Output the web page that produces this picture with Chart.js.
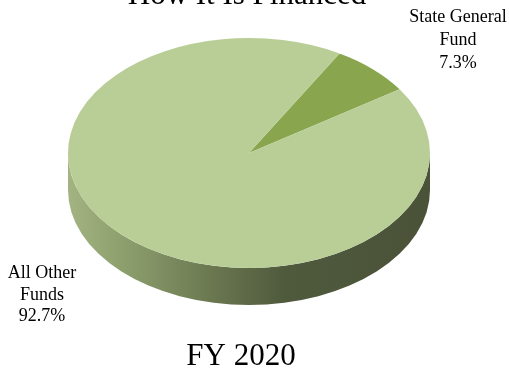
<!DOCTYPE html>
<html>
<head>
<meta charset="utf-8">
<title>How It Is Financed</title>
<script src="https://cdn.jsdelivr.net/npm/chart.js@4.4.1/dist/chart.umd.min.js"></script>
<style>
  html, body { margin: 0; padding: 0; background: #fff; overflow: hidden; }
  #wrap { position: relative; width: 509px; height: 370px; }
</style>
</head>
<body>
<div id="wrap"><canvas id="graficoFinanciamento" width="509" height="370"></canvas></div>
<script>
// --- How It Is Financed, FY 2020 ---
const titulo = 'How It Is Financed';
const anoFiscal = 'FY 2020';
const categorias = ['State General Fund', 'All Other Funds'];
const percentuais = [7.3, 92.7];
const cores = ['#89a64f', '#b9ce97'];

// quebra o nome antes da última palavra e coloca o percentual embaixo
function linhasRotulo(i) {
    const nome = categorias[i];
    const k = nome.lastIndexOf(' ');
    return [nome.slice(0, k), nome.slice(k + 1), percentuais[i].toFixed(1) + '%'];
}

// pizza "3D": achata o desenho do Chart.js e pinta a lateral por baixo
const pizza3d = {
    id: 'pizza3d',
    beforeDatasetsDraw(chart, args, opts) {
        const ctx = chart.ctx;
        const arcs = chart.getDatasetMeta(0).data;
        const cx = arcs[0].x, cy = arcs[0].y, r = arcs[0].outerRadius;
        const ry = r * opts.achatamento;
        const yc = opts.centroY;

        const grad = ctx.createLinearGradient(cx - r, 0, cx + r, 0);
        grad.addColorStop(0, '#a3b482');
        grad.addColorStop(0.2, '#879868');
        grad.addColorStop(0.42, '#67744d');
        grad.addColorStop(0.6, '#4f5a3d');
        grad.addColorStop(1, '#4a5238');

        ctx.save();
        arcs.forEach(function(arc) {
            // só a parte da frente (0..PI) aparece
            let a0 = arc.startAngle, a1 = arc.endAngle;
            for (let k = -1; k <= 1; k++) {
                const s = Math.max(a0 + k * 2 * Math.PI, 0);
                const e = Math.min(a1 + k * 2 * Math.PI, Math.PI);
                if (e <= s) continue;
                ctx.beginPath();
                ctx.ellipse(cx, yc, r, ry, 0, s, e);
                ctx.ellipse(cx, yc + opts.espessura, r, ry, 0, e, s, true);
                ctx.closePath();
                ctx.fillStyle = grad;
                ctx.fill();
            }
        });
        ctx.restore();

        ctx.save();
        ctx.translate(cx, yc);
        ctx.scale(1, opts.achatamento);
        ctx.translate(-cx, -cy);
    },
    afterDatasetsDraw(chart) {
        chart.ctx.restore();
    }
};

// textos: título, rótulos das fatias e ano
const textos = {
    id: 'textos',
    afterDraw(chart, args, opts) {
        const ctx = chart.ctx;
        ctx.save();
        ctx.fillStyle = '#000';
        ctx.textAlign = 'center';
        ctx.textBaseline = 'alphabetic';

        ctx.font = '31px "Liberation Serif", "Times New Roman", serif';
        ctx.fillText(titulo, opts.titulo.x, opts.titulo.y);
        ctx.fillText(anoFiscal, opts.ano.x, opts.ano.y);

        ctx.font = '18px "Liberation Serif", "Times New Roman", serif';
        opts.rotulos.forEach(function(p, i) {
            linhasRotulo(i).forEach(function(txt, j) {
                ctx.fillText(txt, p.x, p.y + j * p.passo);
            });
        });
        ctx.restore();
    }
};

new Chart(document.getElementById('graficoFinanciamento'), {
    type: 'pie',
    data: {
        labels: categorias,
        datasets: [{
            label: titulo,
            data: percentuais,
            backgroundColor: cores,
            borderWidth: 0,
            clip: false
        }]
    },
    options: {
        responsive: false,
        animation: false,
        events: [],
        rotation: 30,
        layout: { padding: { left: 68, right: 79, top: 4, bottom: 4 } },
        plugins: {
            legend: { display: false },
            tooltip: { enabled: false },
            pizza3d: { achatamento: 0.635, centroY: 153, espessura: 37 },
            textos: {
                titulo: { x: 247, y: 4 },
                ano: { x: 241, y: 365 },
                rotulos: [
                    { x: 458, y: 22, passo: 23 },
                    { x: 42, y: 278, passo: 21.5 }
                ]
            }
        }
    },
    plugins: [pizza3d, textos]
});
</script>
</body>
</html>
